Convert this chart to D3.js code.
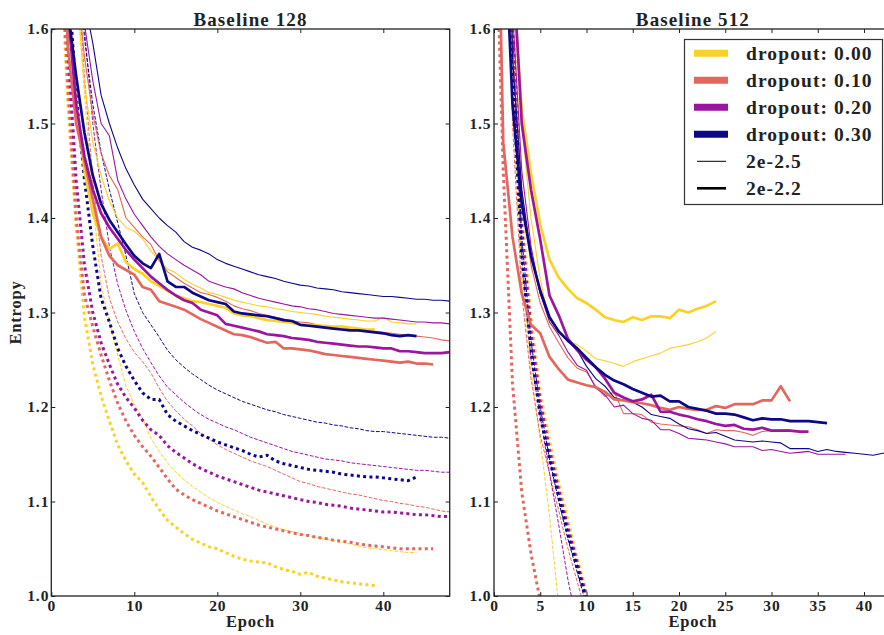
<!DOCTYPE html>
<html>
<head>
<meta charset="utf-8">
<script src="https://cdn.jsdelivr.net/npm/d3@7"></script>
<style>
  html, body { margin: 0; padding: 0; background: #fff; }
  svg { display: block; }
  text { font-family: "Liberation Serif", "Times New Roman", serif; font-weight: bold; fill: #222; }
</style>
</head>
<body>
<svg id="chart" width="884" height="635"></svg>
<script>
// ---------------- DATA ----------------
const panelTitles = ["Baseline 128", "Baseline 512"];
const dropoutLabels = ["dropout: 0.00", "dropout: 0.10", "dropout: 0.20", "dropout: 0.30"];
const lrLabels = ["2e-2.5", "2e-2.2"];
const yTicks = [1.0, 1.1, 1.2, 1.3, 1.4, 1.5, 1.6];
const xTicks128 = [0, 10, 20, 30, 40];
const xTicks512 = [0, 5, 10, 15, 20, 25, 30, 35, 40];

// Baseline 128 — validation, lr 2e-2.5 (thin solid), epochs from 1
const b128_val25_d00 = [1.95,1.78,1.65,1.54,1.48,1.445,1.418,1.40,1.39,1.386,1.378,1.365,1.355,1.346,1.342,1.335,1.330,1.326,1.321,1.319,1.316,1.313,1.311,1.309,1.307,1.306,1.304,1.303,1.301,1.300,1.299,1.298,1.296,1.295,1.294,1.293,1.292,1.291,1.291,1.295,1.290,1.289,1.288,1.288];
const b128_val25_d01 = [1.95,1.78,1.66,1.57,1.51,1.468,1.445,1.43,1.40,1.39,1.38,1.372,1.355,1.343,1.337,1.331,1.326,1.321,1.319,1.316,1.312,1.307,1.304,1.302,1.299,1.297,1.295,1.293,1.291,1.29,1.289,1.287,1.286,1.285,1.284,1.283,1.282,1.281,1.28,1.279,1.278,1.277,1.276,1.275,1.274,1.273,1.271,1.27];
const b128_val25_d02 = [1.95,1.78,1.67,1.605,1.545,1.50,1.487,1.44,1.42,1.404,1.392,1.38,1.37,1.362,1.356,1.35,1.345,1.34,1.333,1.330,1.327,1.325,1.321,1.318,1.315,1.313,1.311,1.309,1.307,1.306,1.304,1.303,1.301,1.299,1.298,1.297,1.296,1.295,1.294,1.294,1.293,1.292,1.291,1.290,1.290,1.289,1.289,1.288];
const b128_val25_d03 = [2.0,1.8,1.7,1.63,1.585,1.53,1.50,1.474,1.452,1.435,1.42,1.41,1.40,1.392,1.385,1.375,1.369,1.366,1.362,1.356,1.352,1.349,1.346,1.343,1.34,1.338,1.336,1.333,1.331,1.329,1.328,1.326,1.325,1.324,1.322,1.321,1.32,1.319,1.318,1.317,1.317,1.316,1.315,1.314,1.314,1.313,1.313,1.312];
// Baseline 128 — validation, lr 2e-2.2 (thick solid)
const b128_val22_d00 = [1.9,1.62,1.52,1.45,1.405,1.38,1.367,1.373,1.353,1.346,1.341,1.333,1.328,1.323,1.318,1.315,1.312,1.311,1.309,1.307,1.305,1.299,1.297,1.296,1.294,1.292,1.291,1.29,1.289,1.287,1.287,1.286,1.286,1.285,1.285,1.284,1.283,1.282,1.282];
const b128_val22_d01 = [1.8,1.58,1.5,1.46,1.42,1.38,1.36,1.35,1.345,1.34,1.327,1.324,1.312,1.309,1.306,1.303,1.298,1.293,1.289,1.285,1.281,1.277,1.276,1.274,1.271,1.268,1.269,1.262,1.262,1.261,1.26,1.258,1.256,1.255,1.254,1.253,1.252,1.251,1.25,1.249,1.248,1.247,1.248,1.246,1.246,1.245];
const b128_val22_d02 = [1.85,1.62,1.52,1.465,1.43,1.405,1.39,1.378,1.366,1.356,1.347,1.338,1.331,1.324,1.318,1.313,1.31,1.303,1.300,1.297,1.288,1.286,1.284,1.282,1.28,1.277,1.276,1.275,1.273,1.272,1.271,1.269,1.268,1.267,1.266,1.265,1.264,1.264,1.263,1.262,1.262,1.259,1.259,1.258,1.257,1.257,1.257,1.258];
const b128_val22_d03 = [1.85,1.62,1.55,1.49,1.445,1.415,1.398,1.385,1.372,1.36,1.352,1.347,1.362,1.333,1.327,1.327,1.321,1.317,1.313,1.311,1.309,1.301,1.299,1.298,1.297,1.296,1.294,1.292,1.291,1.287,1.286,1.285,1.284,1.283,1.282,1.281,1.281,1.280,1.279,1.278,1.276,1.275,1.276,1.275];
// Baseline 128 — training, lr 2e-2.5 (thin dashed)
const b128_trn25_d00 = [2.0,1.8,1.65,1.53,1.42,1.33,1.29,1.255,1.222,1.203,1.188,1.167,1.153,1.141,1.131,1.123,1.116,1.11,1.104,1.099,1.095,1.091,1.087,1.084,1.08,1.076,1.073,1.07,1.068,1.066,1.064,1.062,1.06,1.059,1.057,1.055,1.053,1.051,1.05,1.049,1.048,1.047,1.046,1.046];
const b128_trn25_d01 = [2.0,1.82,1.68,1.55,1.44,1.36,1.315,1.29,1.272,1.258,1.248,1.236,1.22,1.206,1.196,1.187,1.18,1.172,1.166,1.16,1.155,1.151,1.147,1.143,1.14,1.137,1.133,1.129,1.125,1.121,1.119,1.116,1.114,1.112,1.11,1.108,1.107,1.105,1.103,1.101,1.1,1.098,1.097,1.095,1.094,1.092,1.09,1.089];
const b128_trn25_d02 = [2.0,1.85,1.72,1.6,1.5,1.43,1.37,1.33,1.302,1.28,1.262,1.247,1.233,1.221,1.213,1.205,1.198,1.192,1.187,1.183,1.179,1.176,1.172,1.168,1.165,1.162,1.159,1.156,1.153,1.151,1.149,1.147,1.145,1.144,1.143,1.141,1.14,1.139,1.138,1.137,1.136,1.135,1.134,1.133,1.133,1.132,1.131,1.131];
const b128_trn25_d03 = [2.0,1.85,1.7,1.59,1.52,1.47,1.43,1.395,1.36,1.32,1.30,1.287,1.274,1.26,1.25,1.242,1.235,1.229,1.223,1.218,1.214,1.21,1.206,1.203,1.2,1.197,1.195,1.192,1.19,1.188,1.186,1.184,1.183,1.181,1.18,1.178,1.177,1.175,1.174,1.174,1.173,1.172,1.171,1.17,1.169,1.168,1.168,1.167];
// Baseline 128 — training, lr 2e-2.2 (thick dotted)
const b128_trn22_d00 = [1.7,1.52,1.39,1.295,1.245,1.212,1.185,1.16,1.143,1.129,1.12,1.105,1.092,1.08,1.073,1.066,1.06,1.056,1.052,1.05,1.046,1.042,1.039,1.037,1.036,1.035,1.031,1.028,1.026,1.023,1.025,1.021,1.019,1.017,1.015,1.014,1.013,1.012,1.011];
const b128_trn22_d01 = [1.72,1.54,1.40,1.318,1.285,1.255,1.228,1.204,1.185,1.170,1.158,1.148,1.136,1.124,1.113,1.107,1.102,1.098,1.094,1.09,1.087,1.084,1.081,1.078,1.075,1.073,1.071,1.069,1.067,1.065,1.064,1.062,1.061,1.059,1.058,1.057,1.055,1.054,1.053,1.052,1.051,1.050,1.050,1.050,1.050,1.050];
const b128_trn22_d02 = [1.78,1.58,1.44,1.35,1.30,1.268,1.245,1.224,1.21,1.199,1.186,1.176,1.17,1.159,1.152,1.146,1.14,1.135,1.131,1.127,1.124,1.121,1.118,1.115,1.112,1.11,1.108,1.106,1.104,1.102,1.1,1.099,1.097,1.096,1.095,1.093,1.092,1.091,1.09,1.089,1.089,1.088,1.087,1.086,1.086,1.085,1.084,1.084];
const b128_trn22_d03 = [1.85,1.66,1.53,1.44,1.37,1.315,1.29,1.262,1.243,1.228,1.215,1.208,1.208,1.192,1.185,1.18,1.175,1.171,1.167,1.163,1.16,1.157,1.154,1.15,1.147,1.149,1.143,1.14,1.138,1.136,1.134,1.133,1.132,1.131,1.129,1.128,1.127,1.126,1.126,1.125,1.124,1.123,1.122,1.126];

// Baseline 512 — validation, lr 2e-2.5 (thin solid), epochs from 1
const b512_val25_d00 = [1.95,1.7,1.5,1.4,1.335,1.29,1.278,1.27,1.266,1.259,1.251,1.249,1.246,1.243,1.248,1.251,1.254,1.257,1.262,1.264,1.266,1.269,1.273,1.280];
const b512_val25_d01 = [1.9,1.58,1.43,1.35,1.31,1.285,1.268,1.252,1.241,1.237,1.222,1.211,1.216,1.193,1.193,1.192,1.184,1.182,1.181,1.18,1.179,1.176,1.172,1.176,1.175,1.175,1.173,1.170,1.174,1.175,1.176,1.176];
const b512_val25_d02 = [1.95,1.62,1.45,1.37,1.32,1.29,1.276,1.258,1.244,1.239,1.22,1.213,1.2,1.202,1.193,1.188,1.186,1.176,1.176,1.172,1.167,1.166,1.165,1.163,1.161,1.158,1.158,1.158,1.154,1.155,1.153,1.151,1.152,1.153,1.15,1.15,1.15,1.15];
const b512_val25_d03 = [2.1,1.57,1.43,1.36,1.32,1.295,1.28,1.27,1.26,1.243,1.23,1.222,1.21,1.207,1.205,1.2,1.192,1.19,1.188,1.182,1.177,1.175,1.172,1.173,1.169,1.165,1.164,1.163,1.164,1.163,1.162,1.156,1.156,1.156,1.153,1.155,1.153,1.152,1.151,1.150,1.149,1.151,1.151];
// Baseline 512 — validation, lr 2e-2.2 (thick solid)
const b512_val22_d00 = [1.95,1.66,1.515,1.447,1.393,1.356,1.337,1.325,1.315,1.31,1.303,1.295,1.292,1.29,1.295,1.292,1.296,1.296,1.294,1.303,1.300,1.304,1.307,1.312];
const b512_val22_d01 = [1.95,1.48,1.38,1.32,1.287,1.278,1.253,1.24,1.229,1.226,1.223,1.221,1.216,1.208,1.207,1.205,1.204,1.202,1.199,1.197,1.200,1.198,1.197,1.197,1.201,1.199,1.203,1.203,1.203,1.207,1.207,1.222,1.206];
const b512_val22_d02 = [1.95,1.68,1.5,1.43,1.377,1.318,1.297,1.272,1.26,1.25,1.242,1.23,1.215,1.21,1.206,1.208,1.213,1.195,1.195,1.192,1.19,1.187,1.185,1.182,1.18,1.181,1.177,1.176,1.178,1.175,1.175,1.175,1.174,1.174];
const b512_val22_d03 = [1.75,1.52,1.415,1.36,1.323,1.295,1.28,1.27,1.262,1.252,1.242,1.234,1.228,1.224,1.219,1.215,1.211,1.212,1.206,1.206,1.200,1.198,1.196,1.193,1.193,1.192,1.189,1.186,1.188,1.187,1.187,1.185,1.185,1.185,1.184,1.183];
// Baseline 512 — training, lr 2e-2.5 (thin dashed)
const b512_trn25_d00 = [2.1,1.55,1.34,1.24,1.165,1.085,0.99];
const b512_trn25_d01 = [2.0,1.5,1.32,1.23,1.17,1.13,1.09,1.05,1.015,0.98];
const b512_trn25_d02 = [2.2,1.58,1.36,1.25,1.19,1.13,1.075,1.017,0.97];
const b512_trn25_d03 = [2.2,1.6,1.38,1.27,1.2,1.145,1.10,1.06,1.025,0.99];
// Baseline 512 — training, lr 2e-2.2 (thick dotted)
const b512_trn22_d00 = [2.3,1.64,1.41,1.295,1.215,1.165,1.12,1.08,1.04,1.003,0.97];
const b512_trn22_d01 = [1.78,1.45,1.225,1.11,1.045,0.995,0.96];
const b512_trn22_d02 = [2.3,1.6,1.39,1.28,1.205,1.155,1.112,1.072,1.035,1.0,0.97];
const b512_trn22_d03 = [2.2,1.55,1.36,1.26,1.19,1.145,1.105,1.065,1.03,0.995,0.965];

// series table: panel, split, lr index (0 = 2e-2.5, 1 = 2e-2.2), dropout index, first epoch, values
const seriesTable = [
  [0,"trn",0,0,1,b128_trn25_d00],[0,"trn",0,1,1,b128_trn25_d01],[0,"trn",0,2,1,b128_trn25_d02],[0,"trn",0,3,1,b128_trn25_d03],
  [0,"trn",1,0,1,b128_trn22_d00],[0,"trn",1,1,1,b128_trn22_d01],[0,"trn",1,2,1,b128_trn22_d02],[0,"trn",1,3,1,b128_trn22_d03],
  [0,"val",0,0,1,b128_val25_d00],[0,"val",0,1,1,b128_val25_d01],[0,"val",0,2,1,b128_val25_d02],[0,"val",0,3,1,b128_val25_d03],
  [0,"val",1,0,1,b128_val22_d00],[0,"val",1,1,1,b128_val22_d01],[0,"val",1,2,1,b128_val22_d02],[0,"val",1,3,1,b128_val22_d03],
  [1,"trn",0,0,1,b512_trn25_d00],[1,"trn",0,1,1,b512_trn25_d01],[1,"trn",0,2,1,b512_trn25_d02],[1,"trn",0,3,1,b512_trn25_d03],
  [1,"trn",1,0,1,b512_trn22_d00],[1,"trn",1,1,0,b512_trn22_d01],[1,"trn",1,2,1,b512_trn22_d02],[1,"trn",1,3,1,b512_trn22_d03],
  [1,"val",0,0,1,b512_val25_d00],[1,"val",0,1,1,b512_val25_d01],[1,"val",0,2,1,b512_val25_d02],[1,"val",0,3,1,b512_val25_d03],
  [1,"val",1,0,1,b512_val22_d00],[1,"val",1,1,0,b512_val22_d01],[1,"val",1,2,1,b512_val22_d02],[1,"val",1,3,1,b512_val22_d03]
];

// ---------------- STYLE / LAYOUT ----------------
const colors = ["#f9d227", "#e3675f", "#9a169f", "#0d0887"];
const styleFor = (split, lr) => {
  if (split === "val") return lr === 0 ? {w: 1.1, dash: null} : {w: 2.7, dash: null};
  return lr === 0 ? {w: 1.0, dash: "3.7,1.6"} : {w: 3.0, dash: "3,3.3"};
};
const FONT = "'Liberation Serif', 'Times New Roman', serif";

const svg = d3.select("#chart");
const yTop = 29, yBottom = 596;
const y = d3.scaleLinear().domain([1.0, 1.6]).range([yBottom, yTop]);
const panels = [
  {x: d3.scaleLinear().domain([0, 48]).range([51.3, 449.7]), ticks: xTicks128, pad: 2},
  {x: d3.scaleLinear().domain([0, 43]).range([494, 891.75]), ticks: xTicks512, pad: 2.5}
];

panels.forEach((p, pi) => {
  const [x0, x1] = p.x.range();
  const g = svg.append("g");
  const clipId = "clip" + pi;
  svg.append("clipPath").attr("id", clipId).append("rect")
    .attr("x", x0).attr("y", yTop).attr("width", x1 - x0).attr("height", yBottom - yTop);

  const lineGen = d3.line().x(d => p.x(d[0])).y(d => y(d[1]));
  const lg = g.append("g").attr("clip-path", `url(#${clipId})`);
  seriesTable.filter(s => s[0] === pi).forEach(s => {
    const [, split, lr, di, start, vals] = s;
    const st = styleFor(split, lr);
    const pts = vals.map((v, i) => [start + i, v]);
    lg.append("path").datum(pts)
      .attr("d", lineGen)
      .attr("fill", "none")
      .attr("stroke", colors[di])
      .attr("stroke-width", st.w)
      .attr("stroke-dasharray", st.dash)
      .attr("stroke-linejoin", "round");
  });

  const ax = (gen, tx, ty, anchorFix) => {
    const a = g.append("g").attr("transform", `translate(${tx},${ty})`).call(gen);
    a.select(".domain").remove();
    a.selectAll("line").attr("stroke", "#222").attr("stroke-width", 1);
    a.selectAll("text").style("font-family", FONT).style("font-weight", "bold")
      .style("font-size", "15.5px").style("letter-spacing", "0.9px").attr("fill", "#222");
    return a;
  };
  ax(d3.axisBottom(p.x).tickValues(p.ticks).tickFormat(d3.format("d")).tickSize(-4).tickPadding(3.5), 0, yBottom);
  ax(d3.axisTop(p.x).tickValues(p.ticks).tickFormat("").tickSize(-4), 0, yTop);
  ax(d3.axisLeft(y).tickValues(yTicks).tickFormat(d3.format(".1f")).tickSize(-4).tickPadding(p.pad), x0, 0);
  ax(d3.axisRight(y).tickValues(yTicks).tickFormat("").tickSize(-4), x1, 0);

  g.append("rect").attr("x", x0).attr("y", yTop).attr("width", x1 - x0).attr("height", yBottom - yTop)
    .attr("fill", "none").attr("stroke", "#222").attr("stroke-width", 1.3);

  g.append("text").attr("x", (x0 + x1) / 2).attr("y", 26).attr("text-anchor", "middle")
    .style("font-size", "19px").style("letter-spacing", "1.1px").text(panelTitles[pi]);
  g.append("text").attr("x", (x0 + x1) / 2).attr("y", 627).attr("text-anchor", "middle")
    .style("font-size", "16.5px").style("letter-spacing", "0.8px").text("Epoch");
});

svg.append("text").attr("transform", `translate(20.5,${(yTop + yBottom) / 2}) rotate(-90)`)
  .attr("text-anchor", "middle").style("font-size", "16.5px").style("letter-spacing", "0.8px").text("Entropy");

// legend
const leg = svg.append("g");
leg.append("rect").attr("x", 684.5).attr("y", 39.5).attr("width", 198).attr("height", 165)
  .attr("fill", "#fff").attr("stroke", "#333").attr("stroke-width", 1.2);
const rowY = [53.3, 80.3, 107.3, 134.3, 161.3, 188.3];
const legendText = (r, lab) => leg.append("text").attr("x", 746).attr("y", r + 6.5)
  .style("font-size", "19.5px").style("letter-spacing", "1.1px").text(lab);
dropoutLabels.forEach((lab, i) => {
  leg.append("line").attr("x1", 694).attr("x2", 728).attr("y1", rowY[i]).attr("y2", rowY[i])
    .attr("stroke", colors[i]).attr("stroke-width", 7);
  legendText(rowY[i], lab);
});
lrLabels.forEach((lab, j) => {
  const r = rowY[4 + j];
  leg.append("line").attr("x1", 697).attr("x2", 726).attr("y1", r).attr("y2", r)
    .attr("stroke", "#000").attr("stroke-width", j === 0 ? 1 : 2.6);
  legendText(r, lab);
});
</script>
</body>
</html>
